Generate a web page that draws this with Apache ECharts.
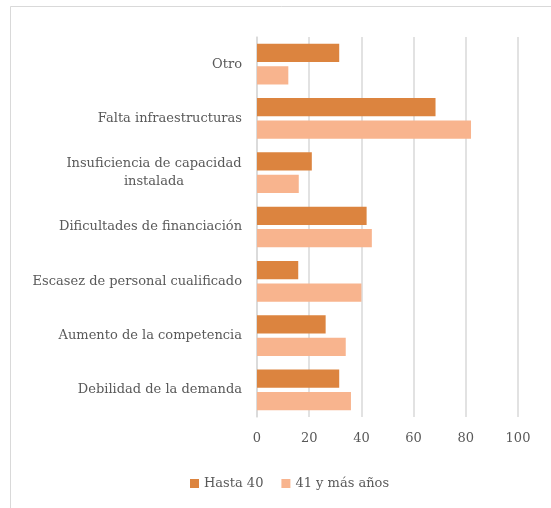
<!DOCTYPE html>
<html>
<head>
<meta charset="utf-8">
<script src="https://cdn.jsdelivr.net/npm/echarts@6/dist/echarts.min.js"></script>
<style>html,body{margin:0;padding:0;background:#fff}#c{width:551px;height:508px}</style>
</head>
<body>
<div id="c"></div>
<script>
const categories = [
  "Otro",
  "Falta infraestructuras",
  "Insuficiencia de capacidad\ninstalada",
  "Dificultades de financiación",
  "Escasez de personal cualificado",
  "Aumento de la competencia",
  "Debilidad de la demanda"
];
const seriesNames = ["Hasta 40", "41 y más años"];
const hasta40 = [31.5, 68.4, 21, 42, 15.8, 26.3, 31.5];
const mas41 = [12, 82, 16, 44, 40, 34, 36];
const xTicks = [0, 20, 40, 60, 80, 100];

const FONT = "DejaVu Serif";
const FS = 13;
const COLOR = '#595959';

// measure widest line of multi-line labels so the lines can be centred in a right-aligned block
const cv = document.createElement('canvas').getContext('2d');
cv.font = FS + 'px "' + FONT + '"';
let blockW = 0;
categories.forEach(function (c) {
  if (c.indexOf('\n') >= 0) c.split('\n').forEach(function (s) { blockW = Math.max(blockW, Math.ceil(cv.measureText(s).width)); });
});

const chart = echarts.init(document.getElementById('c'));
chart.setOption({
  animation: false,
  backgroundColor: '#fff',
  graphic: [{
    type: 'rect', silent: true,
    shape: { x: 10.5, y: 6.5, width: 700, height: 700 },
    style: { fill: 'none', stroke: '#d9d9d9', lineWidth: 1 }
  }],
  grid: { left: 257, right: 33, top: 37, height: 380, containLabel: false },
  legend: {
    data: seriesNames,
    bottom: 13, left: 185,
    icon: 'rect', itemWidth: 9, itemHeight: 9, itemGap: 18,
    textStyle: { fontFamily: FONT, fontSize: FS, color: COLOR }
  },
  xAxis: {
    type: 'value', min: xTicks[0], max: xTicks[xTicks.length - 1], interval: 20,
    axisLine: { show: false }, axisTick: { show: false },
    splitLine: { lineStyle: { color: '#d9d9d9', width: 1.5 } },
    axisLabel: { margin: 15, fontFamily: FONT, fontSize: FS, color: COLOR }
  },
  yAxis: {
    type: 'category', data: categories, inverse: true,
    axisLine: { show: true, lineStyle: { color: '#d9d9d9', width: 1.5 } },
    axisTick: { show: false },
    axisLabel: {
      margin: 15, fontFamily: FONT, fontSize: FS, color: COLOR,
      formatter: function (v) {
        if (v.indexOf('\n') < 0) return v;
        return v.split('\n').map(function (s) { return '{m|' + s + '}'; }).join('\n');
      },
      rich: { m: { width: blockW, align: 'center', fontFamily: FONT, fontSize: FS, color: COLOR, lineHeight: 18 } }
    }
  },
  series: [
    { name: seriesNames[0], type: 'bar', data: hasta40, itemStyle: { color: '#DC843F' }, barGap: '23%', barCategoryGap: '25%' },
    { name: seriesNames[1], type: 'bar', data: mas41, itemStyle: { color: '#F8B48E' }, barGap: '23%', barCategoryGap: '25%' }
  ]
});
</script>
</body>
</html>
